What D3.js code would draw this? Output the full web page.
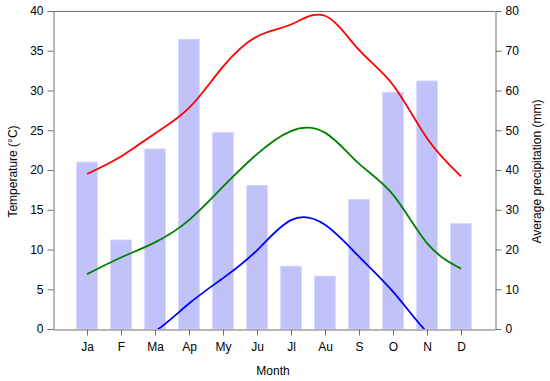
<!DOCTYPE html>
<html lang="en">
<head>
  <meta charset="UTF-8">
  <title>climate chart</title>
  <style>
    body { margin: 0; background: #fff; }
    text { font-family: "Liberation Sans", Arial, sans-serif; font-size: 12px; fill: #000; }
    .axis path, .axis line { stroke: #707070; }
    .bar { fill: #c2c2fb; stroke: #d2d2fc; stroke-width: 0.8; }
    .temp { fill: none; stroke-width: 1.8; stroke-linejoin: round; }
  </style>
</head>
<body>
  <script src="https://d3js.org/d3.v7.min.js"></script>
  <script>
    var months = ['Ja', 'F', 'Ma', 'Ap', 'My', 'Ju', 'Jl', 'Au', 'S', 'O', 'N', 'D'];
    var precip = [42, 22.4, 45.3, 72.9, 49.4, 36.1, 15.8, 13.3, 32.6, 59.5, 62.4, 26.5];
    var tMax = [19.5, 21.7, 24.6, 27.8, 33.0, 36.8, 38.3, 39.4, 35.1, 30.7, 24.0, 19.2];
    var tMean = [6.9, 9.0, 10.9, 13.7, 17.9, 22.0, 24.9, 24.7, 20.8, 16.9, 10.8, 7.6];
    var tMin = [-4, -2.3, -0.3, 3.2, 6.4, 9.9, 13.7, 13.1, 9.1, 4.7, -0.4, -4];
    var tempTicks = d3.range(0, 41, 5);
    var precipTicks = d3.range(0, 81, 10);

    var width = 550, height = 381;
    var plotL = 53, plotR = 495, plotT = 11, plotB = 329;

    var svg = d3.select('body').append('svg')
      .attr('width', width)
      .attr('height', height);

    var x = d3.scaleLinear().domain([0, 13]).range([plotL, plotR]);
    var yT = d3.scaleLinear().domain([0, 40]).range([plotB, plotT]);
    var yP = d3.scaleLinear().domain([0, 80]).range([plotB, plotT]);
    var barW = 20.6;

    svg.append('defs').append('clipPath').attr('id', 'plot')
      .append('rect')
      .attr('x', plotL).attr('y', plotT)
      .attr('width', plotR - plotL).attr('height', plotB - plotT);

    // precipitation bars
    svg.selectAll('.bar')
      .data(precip)
      .enter().append('rect')
      .attr('class', 'bar')
      .attr('x', function(d, i) { return x(i + 1) - barW / 2; })
      .attr('y', function(d) { return yP(d); })
      .attr('width', barW)
      .attr('height', function(d) { return plotB - yP(d); });

    // temperature lines
    var line = d3.line()
      .x(function(d, i) { return x(i + 1); })
      .y(function(d) { return yT(d); })
      .curve(d3.curveNatural);

    var g = svg.append('g').attr('clip-path', 'url(#plot)');
    [[tMax, '#ff0000'], [tMean, '#008000'], [tMin, '#0000ff']].forEach(function(s) {
      g.append('path')
        .datum(s[0])
        .attr('class', 'temp')
        .attr('stroke', s[1])
        .attr('d', line);
    });

    // frame top line
    svg.append('line')
      .attr('x1', plotL).attr('x2', plotR)
      .attr('y1', plotT + 0.5).attr('y2', plotT + 0.5)
      .attr('stroke', '#707070');

    // axes
    function plain(a) {
      a.attr('font-size', null).attr('font-family', null);
    }

    svg.append('g').attr('class', 'axis')
      .attr('transform', 'translate(' + (plotL + 0.5) + ',0)')
      .call(d3.axisLeft(yT).tickValues(tempTicks).tickSize(6).tickPadding(4).tickSizeOuter(0))
      .call(plain);

    svg.append('g').attr('class', 'axis')
      .attr('transform', 'translate(' + (plotR + 0.5) + ',0)')
      .call(d3.axisRight(yP).tickValues(precipTicks).tickSize(6).tickPadding(4).tickSizeOuter(0))
      .call(plain);

    svg.append('g').attr('class', 'axis')
      .attr('transform', 'translate(0,' + (plotB + 0.5) + ')')
      .call(d3.axisBottom(x).tickValues(d3.range(1, 13))
        .tickFormat(function(d) { return months[d - 1]; })
        .tickSize(6).tickPadding(6.5).tickSizeOuter(0))
      .call(plain);

    // titles
    svg.append('text')
      .attr('transform', 'translate(16.5,' + ((plotT + plotB) / 2 + 1.5) + ') rotate(-90)')
      .attr('text-anchor', 'middle')
      .text('Temperature (\u00B0C)');

    svg.append('text')
      .attr('transform', 'translate(541,' + ((plotT + plotB) / 2 + 1.5) + ') rotate(-90)')
      .attr('text-anchor', 'middle')
      .text('Average precipitation (mm)');

    svg.append('text')
      .attr('x', 273).attr('y', 375)
      .attr('text-anchor', 'middle')
      .text('Month');
  </script>
</body>
</html>
